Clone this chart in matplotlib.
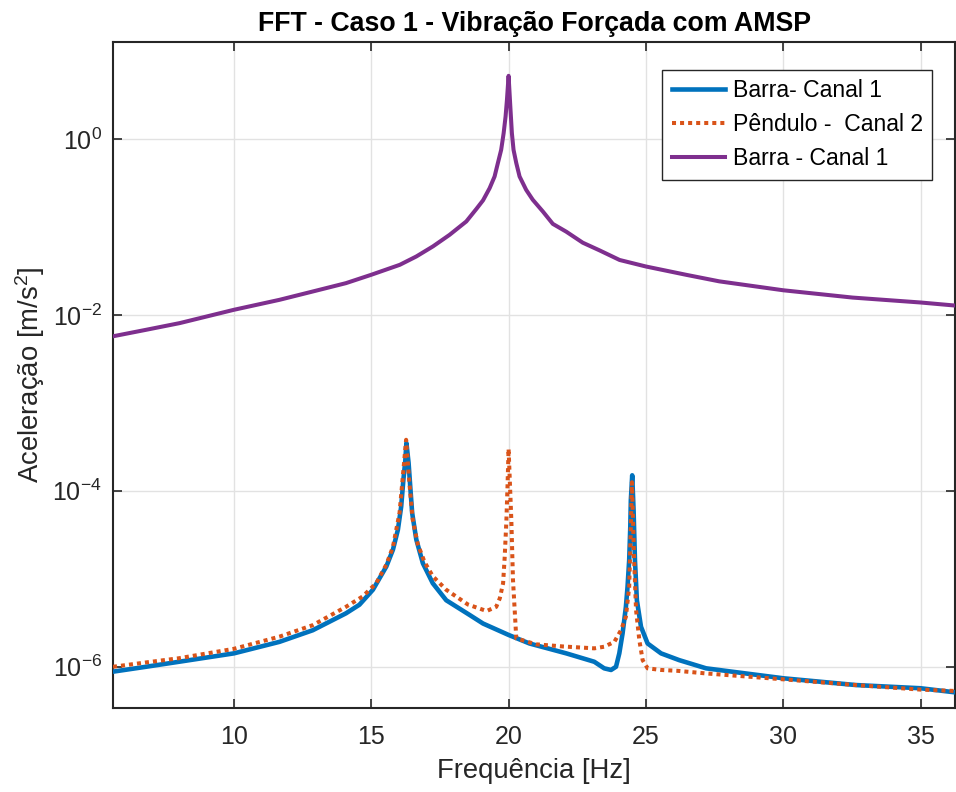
import matplotlib
matplotlib.use("Agg")
import matplotlib.pyplot as plt
import matplotlib.ticker as mticker

plt.rcParams['font.family'] = ['Liberation Sans', 'DejaVu Sans']
plt.rcParams['mathtext.default'] = 'regular'

# ---- data ----
freq_barra1 = [5.6, 6.8, 8.0, 10.0, 11.66, 12.87, 14.08, 14.57, 15.06, 15.55, 15.79, 15.97,
               16.09, 16.17, 16.24, 16.28, 16.36, 16.42, 16.49, 16.64, 16.88, 17.24, 17.73,
               18.57, 19.07, 20.0, 20.76, 22.1, 23.12, 23.48, 23.73, 23.91, 24.03, 24.15,
               24.27, 24.33, 24.39, 24.43, 24.45, 24.5, 24.55, 24.6, 24.67, 24.82, 25.06,
               25.55, 26.21, 27.19, 30.0, 32.64, 35.0, 36.3]
acc_barra1 = [0.88e-6, 1.0e-6, 1.14e-6, 1.42e-6, 1.92e-6, 2.6e-6, 4.05e-6, 5.07e-6, 7.5e-6,
              1.38e-5, 2.14e-5, 3.6e-5, 6.6e-5, 1.33e-4, 2.2e-4, 3.5e-4, 2.07e-4, 1.12e-4,
              5.6e-5, 2.8e-5, 1.5e-5, 8.9e-6, 5.7e-6, 3.9e-6, 3.1e-6, 2.3e-6, 1.84e-6, 1.42e-6,
              1.14e-6, 0.96e-6, 0.92e-6, 1.0e-6, 1.42e-6, 2.4e-6, 4.8e-6, 8.1e-6, 1.63e-5,
              3.9e-5, 7.8e-5, 1.5e-4, 6.0e-5, 1.63e-5, 5.7e-6, 2.85e-6, 1.84e-6, 1.42e-6,
              1.19e-6, 0.96e-6, 0.74e-6, 0.62e-6, 0.57e-6, 0.51e-6]

freq_pendulo2 = [5.6, 6.8, 8.0, 10.0, 11.66, 12.87, 14.08, 14.69, 15.18, 15.55, 15.79, 16.03,
                 16.15, 16.27, 16.39, 16.51, 16.69, 16.94, 17.24, 17.73, 18.52, 19.2, 19.55,
                 19.68, 19.8, 19.86, 19.92, 19.96, 20.0, 20.1, 20.16, 20.28, 21.0, 22.0, 23.12,
                 23.48, 23.85, 24.09, 24.27, 24.39, 24.45, 24.49, 24.57, 24.64, 24.76, 24.88,
                 25.06, 25.55, 26.14, 27.19, 30.0, 32.64, 35.0, 36.3]
acc_pendulo2 = [1.0e-6, 1.12e-6, 1.25e-6, 1.6e-6, 2.2e-6, 2.97e-6, 4.8e-6, 6.3e-6, 8.9e-6,
                1.45e-5, 2.3e-5, 5.6e-5, 1.45e-4, 3.8e-4, 1.22e-4, 4.7e-5, 2.5e-5, 1.55e-5,
                1.07e-5, 7.5e-6, 5.1e-6, 4.3e-6, 4.8e-6, 6.0e-6, 8.9e-6, 1.8e-5, 4.6e-5,
                1.1e-4, 3.0e-4, 4.6e-5, 9.7e-6, 2.1e-6, 1.8e-6, 1.7e-6, 1.62e-6, 1.69e-6,
                1.92e-6, 2.6e-6, 3.7e-6, 8.1e-6, 3.9e-5, 1.25e-4, 1.63e-5, 4.4e-6, 2.0e-6,
                1.19e-6, 0.96e-6, 0.92e-6, 0.9e-6, 0.84e-6, 0.72e-6, 0.62e-6, 0.55e-6, 0.53e-6]

freq_barra_amsp = [5.6, 6.81, 8.03, 10.0, 11.66, 12.87, 14.08, 15.0, 16.04, 16.64, 17.25,
                   17.85, 18.46, 18.83, 19.07, 19.31, 19.49, 19.61, 19.73, 19.82, 19.89, 19.94,
                   20.0, 20.07, 20.12, 20.18, 20.28, 20.4, 20.64, 20.88, 21.25, 21.61, 22.1,
                   22.7, 23.31, 24.04, 25.0, 26.46, 27.67, 30.0, 32.52, 35.0, 36.3]
acc_barra_amsp = [5.7e-3, 6.76e-3, 8.05e-3, 0.0114, 0.0148, 0.0184, 0.0229, 0.0285,
                  0.037, 0.046, 0.060, 0.081, 0.115, 0.16, 0.2, 0.275, 0.373, 0.53, 0.75,
                  1.16, 1.79, 2.77, 5.2, 2.13, 1.16, 0.75, 0.53, 0.373, 0.263, 0.203, 0.149,
                  0.108, 0.088, 0.066, 0.054, 0.042, 0.0354, 0.0285, 0.024, 0.019, 0.0157,
                  0.0138, 0.0127]

labels = ['Barra- Canal 1', 'Pêndulo -  Canal 2', 'Barra - Canal 1']
xticks = [10, 15, 20, 25, 30, 35]
yticks = [1e-6, 1e-4, 1e-2, 1e0]

# ---- figure ----
fig = plt.figure(figsize=(9.56, 7.92), dpi=100)
ax = fig.add_axes([113/956, 1 - 708/792, (955 - 113)/956, (708 - 42)/792])

ax.semilogy(freq_barra1, acc_barra1, color='#0072BD', lw=3.3, label=labels[0],
            solid_joinstyle='round', zorder=3)
ax.semilogy(freq_pendulo2, acc_pendulo2, color='#D95319', lw=2.9, linestyle=(0, (1, 1)),
            label=labels[1], zorder=4)
ax.semilogy(freq_barra_amsp, acc_barra_amsp, color='#7E2F8E', lw=2.9, label=labels[2],
            solid_joinstyle='round', zorder=3)

ax.set_xlim(5.6, 36.25)
ax.set_ylim(3.4e-7, 12.6)
ax.set_xticks(xticks)
ax.set_yticks(yticks)
ax.yaxis.set_minor_locator(mticker.NullLocator())
ax.xaxis.set_minor_locator(mticker.NullLocator())

ax.grid(True, color='#e2e2e2', lw=1.0)
ax.set_axisbelow(True)

for s in ax.spines.values():
    s.set_color('#262626')
    s.set_linewidth(1.5)

ax.tick_params(direction='in', length=6.5, width=1.2, top=True, right=True,
               labelsize=18, colors='#262626')
ax.tick_params(axis='x', pad=12)
ax.tick_params(axis='y', pad=8)

ax.set_title('FFT - Caso 1 - Vibração Forçada com AMSP', fontsize=19.3,
             fontweight='bold', color='black', pad=8)
ax.set_xlabel('Frequência [Hz]', fontsize=19.8, color='#262626', labelpad=7)
ax.set_ylabel('Aceleração [m/s$^{2}$]', fontsize=19.8, color='#262626', labelpad=4)

leg = ax.legend(loc='upper right', bbox_to_anchor=(0.9727, 0.958), borderaxespad=0,
                fontsize=16.6, frameon=True, fancybox=False, framealpha=1,
                edgecolor='#262626', handlelength=2.3, handletextpad=0.35,
                labelspacing=0.48, borderpad=0.4)
leg.get_frame().set_linewidth(1.0)

fig.savefig('out.png', dpi=100, facecolor='white')
